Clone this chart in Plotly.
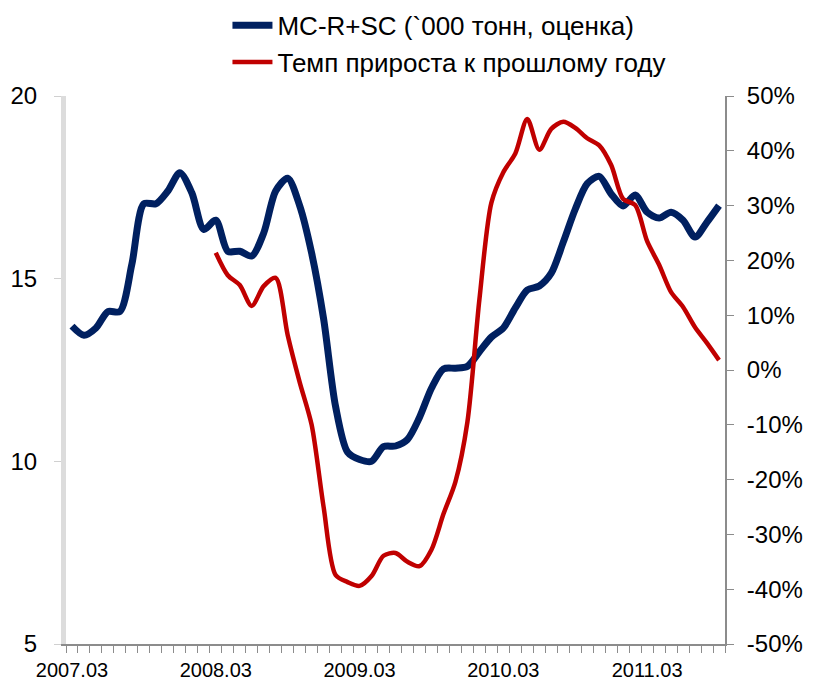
import plotly.graph_objects as go

# monthly points, 2007.03 .. 2011.09
months = [f"{2007 + (2 + i) // 12}.{(2 + i) % 12 + 1:02d}" for i in range(55)]

volume = [13.7, 13.45, 13.65, 14.1, 14.1, 15.4, 17.05, 17.05, 17.4, 17.9,
          17.35, 16.35, 16.6, 15.75, 15.75, 15.62, 16.25, 17.4, 17.75, 17.0,
          15.7, 13.9, 11.5, 10.25, 10.05, 10.0, 10.4, 10.42, 10.6, 11.2,
          12.0, 12.53, 12.55, 12.6, 13.0, 13.4, 13.65, 14.2, 14.69, 14.8,
          15.15, 16.0, 16.9, 17.6, 17.8, 17.32, 16.99, 17.29, 16.82, 16.66,
          16.82, 16.6, 16.14, 16.55, 17.0]

growth = [None] * 12 + [
    21.4, 17.3, 15.5, 11.7, 15.3, 16.8, 6.4, -2.2, -10.0, -25.0,
    -37.4, -38.7, -39.4, -37.6, -33.9, -33.4, -35.0, -35.8, -32.8, -26.3,
    -20.4, -9.5, 12.8, 30.5, 36.1, 39.5, 45.8, 40.2, 44.0, 45.3,
    44.2, 42.3, 41.0, 37.4, 31.2, 30.1, 23.5, 19.2, 14.2, 11.5,
    7.8, 4.9, 1.8]

xtick_labels = ["2007.03", "2008.03", "2009.03", "2010.03", "2011.03"]
pct_ticks = [-50, -40, -30, -20, -10, 0, 10, 20, 30, 40, 50]
pct_labels = [f"{v}%" for v in pct_ticks]

x = list(range(len(months)))
xrange_ = [-0.5, len(months) - 0.5]

fig = go.Figure()
fig.add_trace(go.Scatter(x=x, y=volume, name="MC-R+SC (`000 тонн, оценка)",
                         mode="lines", line=dict(color="#002060", width=7, shape="spline", smoothing=0.8),
                         text=months, hoverinfo="text+y"))
fig.add_trace(go.Scatter(x=x, y=growth, name="Темп прироста к прошлому году",
                         mode="lines", xaxis="x2", yaxis="y2",
                         line=dict(color="#C00000", width=4.5, shape="spline", smoothing=0.8),
                         text=months, hoverinfo="text+y"))

# page body has an 8px margin, so the figure is a bit smaller than the window
fig.update_layout(
    width=805, height=672,
    margin=dict(l=58, r=88, t=88, b=36, autoexpand=False),
    plot_bgcolor="white", paper_bgcolor="white",
    font=dict(family="Liberation Sans, Arial, sans-serif", color="#000000"),
    showlegend=True,
    legend=dict(x=0.245, y=1.172, xanchor="left", yanchor="top",
                font=dict(size=26), bgcolor="rgba(0,0,0,0)",
                itemwidth=40, tracegroupgap=0),
    # x: month boundary ticks, no labels
    xaxis=dict(range=xrange_, tickmode="linear", tick0=-0.5, dtick=1,
               ticks="outside", ticklen=7, tickcolor="#8c8c8c", tickwidth=1,
               showticklabels=False,
               showline=True, linecolor="#8c8c8c", linewidth=2,
               showgrid=False, zeroline=False, automargin=False),
    # x2: year labels centred on the March points
    xaxis2=dict(range=xrange_, overlaying="x", anchor="y", side="bottom",
                tickvals=[x[months.index(m)] for m in xtick_labels],
                ticktext=xtick_labels, ticks="",
                tickfont=dict(size=20), ticklabelstandoff=12,
                showline=False, showgrid=False, zeroline=False, automargin=False),
    yaxis=dict(range=[5, 20], dtick=5, tick0=5,
               ticks="outside", ticklen=7, tickcolor="#d0d0d0",
               tickfont=dict(size=24), ticklabelstandoff=12,
               showline=True, linecolor="#dcdcdc", linewidth=5,
               showgrid=False, zeroline=False, automargin=False),
    yaxis2=dict(range=[-50, 50], overlaying="y", side="right", anchor="x",
                tickvals=pct_ticks, ticktext=pct_labels,
                ticks="outside", ticklen=7, tickcolor="#8c8c8c",
                tickfont=dict(size=24), ticklabelstandoff=8,
                showline=True, linecolor="#8c8c8c", linewidth=2,
                showgrid=False, zeroline=False, automargin=False),
)

fig.write_html("out.html")
